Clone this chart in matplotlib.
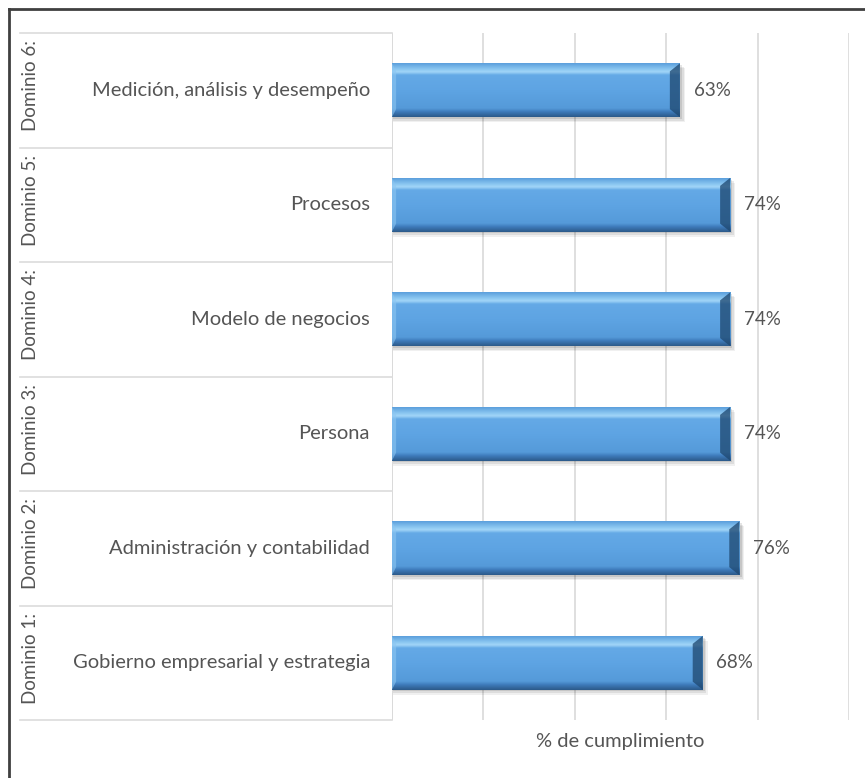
import numpy as np
import matplotlib
matplotlib.use("Agg")
import matplotlib.pyplot as plt
from matplotlib.colors import LinearSegmentedColormap
from matplotlib.patches import Rectangle, Polygon
from matplotlib.lines import Line2D
import matplotlib.transforms as mtransforms

# data (bottom to top)
dominios = ["Dominio 1:", "Dominio 2:", "Dominio 3:", "Dominio 4:", "Dominio 5:", "Dominio 6:"]
areas = ["Gobierno empresarial y estrategia", "Administración y contabilidad", "Persona",
         "Modelo de negocios", "Procesos", "Medición, análisis y desempeño"]
cumplimiento = [68, 76, 74, 74, 74, 63]
xlabel = "% de cumplimiento"

plt.rcParams['font.family'] = ['Lato', 'DejaVu Sans']
txt_color = '#555555'

fig = plt.figure(figsize=(8.65, 7.78), dpi=100)
ax = fig.add_axes([392 / 865, 1 - 720 / 778, 457 / 865, 687 / 778])

ax.set_xlim(0, 100)
ax.set_ylim(-0.5, len(areas) - 0.5)
ax.set_xticks(np.arange(0, 101, 20))
ax.set_xticklabels([])
ax.set_yticks([])
ax.tick_params(length=0)
for s in ax.spines.values():
    s.set_visible(False)
ax.grid(axis='x', color='#d9d9d9', linewidth=1.2, zorder=0)
ax.set_axisbelow(True)
ax.axvline(0, color='#d9d9d9', linewidth=1.2, zorder=1)

bevel = LinearSegmentedColormap.from_list('bevel', [
    (0.0, '#2c5a8a'), (0.10, '#3f7dbd'), (0.16, '#559ad9'), (0.5, '#5ea4e3'),
    (0.78, '#64a9e6'), (0.84, '#a2d6f8'), (0.90, '#86c3ef'), (1.0, '#5c9fdc')])

h = 0.47
bx, by = 2.2, 0.07
grad = np.linspace(0, 1, 200).reshape(-1, 1)
for i, v in enumerate(cumplimiento):
    y0, y1 = i - h / 2, i + h / 2
    # soft shadow
    for k, a in enumerate([0.10, 0.08, 0.06]):
        off = 0.015 * (k + 1)
        ax.add_patch(Rectangle((0.2, y0 - off), v + 0.3 * (k + 1), h, facecolor='#000000',
                               alpha=a, linewidth=0, zorder=2))
    clip = Rectangle((0, y0), v, h, transform=ax.transData, facecolor='none', linewidth=0)
    ax.add_patch(clip)
    im = ax.imshow(grad, cmap=bevel, extent=[0, v, y0, y1], aspect='auto',
                   origin='lower', zorder=3, interpolation='bilinear')
    im.set_clip_path(clip)
    # right end bevel (dark)
    ax.add_patch(Polygon([(v - bx, y0 + by), (v, y0), (v, y1), (v - bx, y1 - by)],
                         closed=True, facecolor='#1e476f', alpha=0.75, linewidth=0, zorder=4))
    # left end bevel (light)
    ax.add_patch(Polygon([(0, y0), (0.9, y0 + by), (0.9, y1 - by), (0, y1)],
                         closed=True, facecolor='#8cc6f2', alpha=0.6, linewidth=0, zorder=4))
    ax.text(v + 3.0, i, f"{v}%", va='center', ha='left', fontsize=13.5,
            color=txt_color, zorder=5)

ax.set_xlim(0, 100)
ax.set_ylim(-0.5, len(areas) - 0.5)

# two-level category labels
trans = mtransforms.blended_transform_factory(ax.transAxes, ax.transData)
x_left = (20 - 392) / 457
for i in range(len(areas)):
    ax.text(-22 / 457, i, areas[i], transform=trans, ha='right', va='center',
            fontsize=14.5, color=txt_color)
    ax.text((31 - 392) / 457, i + 0.04, dominios[i], transform=trans, ha='center', va='center',
            rotation=90, fontsize=13.5, color=txt_color)
for yb in np.arange(-0.5, len(areas), 1.0):
    ax.add_line(Line2D([x_left, 0], [yb, yb], transform=trans, color='#dcdcdc',
                       linewidth=1.2, clip_on=False))

ax.set_xlabel(xlabel, fontsize=14.5, color=txt_color, labelpad=6)

# outer chart frame (top and left edges visible)
fig.add_artist(Line2D([9 / 865, 1.0], [1 - 9 / 778, 1 - 9 / 778], color='#404040', linewidth=2))
fig.add_artist(Line2D([9 / 865, 9 / 865], [0, 1 - 9 / 778], color='#404040', linewidth=2))

fig.savefig("out.png", dpi=100)
